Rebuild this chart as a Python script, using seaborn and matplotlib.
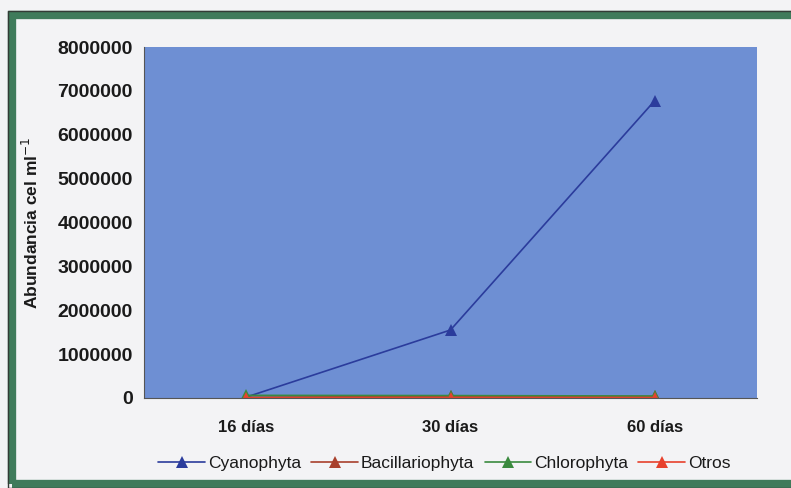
import matplotlib
matplotlib.use("Agg")
import matplotlib.pyplot as plt
import seaborn as sns
import pandas as pd
from matplotlib.patches import Rectangle
from matplotlib.ticker import FixedLocator, NullFormatter

categories = ["16 días", "30 días", "60 días"]
series_names = ["Cyanophyta", "Bacillariophyta", "Chlorophyta", "Otros"]
cyanophyta = [20000, 1550000, 6780000]
bacillariophyta = [15000, 40000, 35000]
chlorophyta = [60000, 55000, 45000]
otros = [5000, 10000, 10000]
colors = ["#2b3c9c", "#a8402c", "#3a8a3e", "#e8412c"]
yticks = [0, 1000000, 2000000, 3000000, 4000000, 5000000, 6000000, 7000000, 8000000]

rows = []
for name, vals in zip(series_names, [cyanophyta, bacillariophyta, chlorophyta, otros]):
    for c, v in zip(categories, vals):
        rows.append({"cat": c, "val": v, "serie": name})
df = pd.DataFrame(rows)

sns.set_style("white")
plt.rcParams["font.family"] = ["Liberation Sans", "DejaVu Sans"]

fig = plt.figure(figsize=(7.91, 4.88), dpi=100, facecolor="#f3f3f5")
ax = fig.add_axes([144/791, 1 - 398/488, (757-144)/791, (398-47)/488])
ax.set_facecolor("#6e8fd3")

sns.lineplot(data=df, x="cat", y="val", hue="serie", hue_order=series_names,
             palette=colors, marker="^", markersize=8, markeredgewidth=0,
             linewidth=1.2, sort=False, ax=ax, legend=True)
# thicker brownish line for Bacillariophyta as in reference
for ln in ax.lines:
    if ln.get_label() == "Bacillariophyta":
        ln.set_linewidth(2.5)
ax.set_xlim(-0.5, 2.5)
ax.set_ylim(0, 8000000)
ax.set_yticks(yticks)
ax.set_yticklabels([str(v) for v in yticks])
ax.xaxis.set_major_locator(FixedLocator([-0.5, 0.5, 1.5, 2.5]))
ax.xaxis.set_major_formatter(NullFormatter())
ax.xaxis.set_minor_locator(FixedLocator([0, 1, 2]))
ax.set_xticklabels(categories, minor=True)
ax.tick_params(axis="x", which="minor", length=0, pad=16, labelsize=12, colors="#1a1a1a")
ax.tick_params(axis="x", which="major", length=4, direction="out", color="#555555")
ax.tick_params(axis="y", length=4, direction="out", color="#555555", labelsize=14,
               labelcolor="#1a1a1a", pad=4)
for lbl in ax.get_yticklabels() + ax.get_xticklabels(minor=True):
    lbl.set_fontweight("bold")
ax.set_xlabel("")
ax.set_ylabel("Abundancia cel ml$^{-1}$", fontsize=12.5, color="#1a1a1a", labelpad=12,
              fontweight="bold")
for s in ["top", "right"]:
    ax.spines[s].set_visible(False)
ax.spines["left"].set_color("#555555")
ax.spines["bottom"].set_color("#555555")

leg = ax.legend(loc="upper center", bbox_to_anchor=(0.49, -0.12), ncol=4, frameon=False,
                fontsize=12.5, handlelength=2.7, columnspacing=0.6, handletextpad=0.15)
for t in leg.get_texts():
    t.set_color("#1a1a1a")
for h in leg.legend_handles:
    h.set_linewidth(1.2)

fig.patches.append(Rectangle((11.5/791, 4/488), 785/791, 469/488, transform=fig.transFigure,
                             fill=False, edgecolor="#3f7b5b", linewidth=6))
fig.patches.append(Rectangle((8/791, 0.5/488), 791/791, 477/488, transform=fig.transFigure,
                             fill=False, edgecolor="#333b36", linewidth=1))

fig.savefig("out.png", dpi=100, facecolor=fig.get_facecolor())
